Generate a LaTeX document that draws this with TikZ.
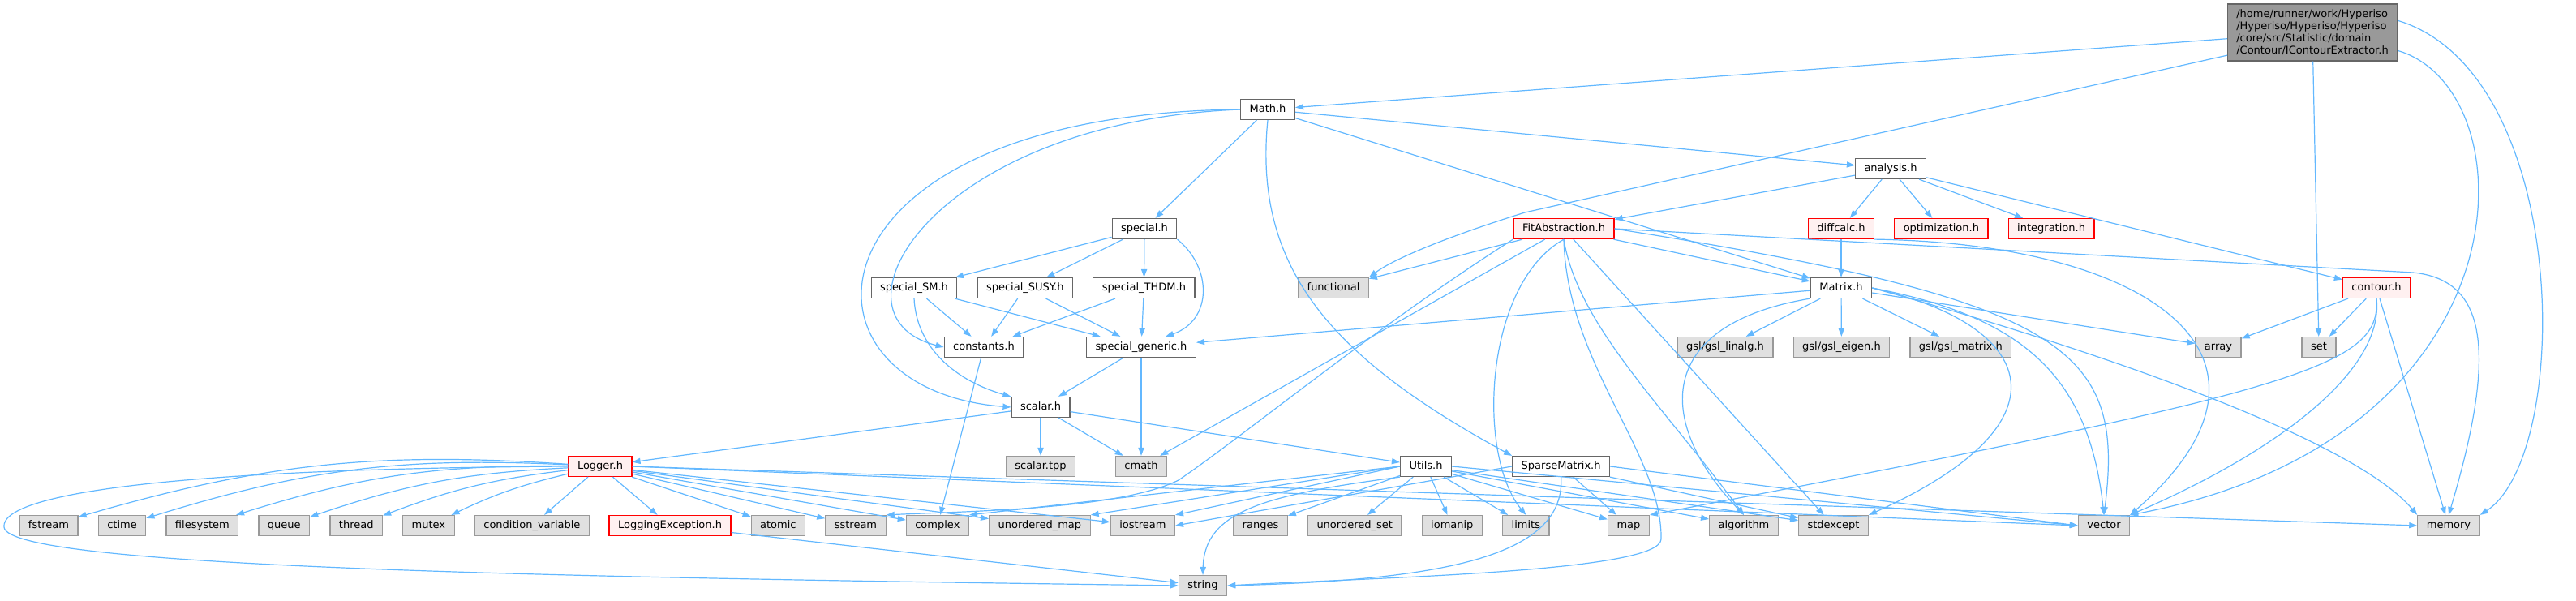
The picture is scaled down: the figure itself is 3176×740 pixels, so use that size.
\documentclass[tikz,border=0pt]{standalone}
\usepackage{fontspec}
\setmainfont{DejaVu Sans}
\usetikzlibrary{positioning, arrows.meta}
\definecolor{edgeblue}{HTML}{63B8FF}
\definecolor{hdrline}{HTML}{666666}
\definecolor{rootfill}{HTML}{999999}
\definecolor{sysfill}{HTML}{E0E0E0}
\definecolor{sysline}{HTML}{999999}
\definecolor{redfill}{HTML}{FFF0F0}
\tikzstyle{header} = [rectangle, minimum height=12.5pt, inner xsep=5.5pt, inner ysep=0pt, text height=5pt, text depth=1.4pt, line width=0.6pt, draw=hdrline, fill=white, font=\fontsize{6.5}{7.5}\selectfont]
\tikzstyle{missing} = [header, draw=red, fill=redfill]
\tikzstyle{sys} = [header, draw=sysline, fill=sysfill]
\tikzstyle{rootbox} = [rectangle, align=left, minimum height=35pt, minimum width=104.5pt, inner xsep=4pt, line width=0.6pt, draw=hdrline, fill=rootfill, font=\fontsize{6.5}{7.5}\selectfont]
\tikzstyle{arrow} = [->, >={Triangle[length=5pt, width=3.6pt]}, line width=0.6pt, draw=edgeblue]

\begin{document}
\begin{tikzpicture}[x=0.5pt, y=-0.5pt]
    \useasboundingbox (0,0) rectangle (3176,740);

    \node (root) [rootbox] at (2851,40)
    {/home/runner/work/Hyperiso\\/Hyperiso/Hyperiso/Hyperiso\\/core/src/Statistic/domain\\/Contour/IContourExtractor.h};
    \node (math) [header] at (1563,135) {Math.h};
    \node (analysis) [header] at (2331,208) {analysis.h};

    \node (special) [header] at (1411,282) {special.h};
    \node (fitabs) [missing] at (1928,282) {FitAbstraction.h};
    \node (diffcalc) [missing] at (2270,282) {diffcalc.h};
    \node (optim) [missing, right=12pt of diffcalc] {optimization.h};
    \node (integr) [missing, right=12pt of optim] {integration.h};

    \node (specSM) [header] at (1127,355) {special\_SM.h};
    \node (specSUSY) [header, right=12pt of specSM] {special\_SUSY.h};
    \node (specTHDM) [header, right=12pt of specSUSY] {special\_THDM.h};
    \node (functional) [sys] at (1644,355) {functional};
    \node (matrix) [header] at (2270,355) {Matrix.h};
    \node (contour) [missing] at (2930,355) {contour.h};

    \node (constants) [header] at (1213,428) {constants.h};
    \node (specgen) [header] at (1407,428) {special\_generic.h};
    \node (linalg) [sys] at (2127,428) {gsl/gsl\_linalg.h};
    \node (eigen) [sys, right=12pt of linalg] {gsl/gsl\_eigen.h};
    \node (gslmatrix) [sys, right=12pt of eigen] {gsl/gsl\_matrix.h};
    \node (array) [sys] at (2735,428) {array};
    \node (set) [sys] at (2859,428) {set};

    \node (scalar) [header] at (1283,502) {scalar.h};

    \node (logger) [missing] at (740,575) {Logger.h};
    \node (scalartpp) [sys] at (1283,575) {scalar.tpp};
    \node (cmath) [sys] at (1407,575) {cmath};
    \node (utils) [header] at (1758,575) {Utils.h};
    \node (sparse) [header, right=37pt of utils] {SparseMatrix.h};

    \node (fstream) [sys] at (60,648) {fstream};
    \node (ctime) [sys, right=12pt of fstream] {ctime};
    \node (filesystem) [sys, right=12pt of ctime] {filesystem};
    \node (queue) [sys, right=12pt of filesystem] {queue};
    \node (thread) [sys, right=12pt of queue] {thread};
    \node (mutex) [sys, right=12pt of thread] {mutex};
    \node (condvar) [sys, right=12pt of mutex] {condition\_variable};
    \node (logexc) [missing] at (826,648) {LoggingException.h};
    \node (atomic) [sys, right=12pt of logexc] {atomic};
    \node (sstream) [sys, right=12pt of atomic] {sstream};
    \node (complex) [sys, right=12pt of sstream] {complex};
    \node (umap) [sys, right=12pt of complex] {unordered\_map};
    \node (iostream) [sys, right=12pt of umap] {iostream};
    \node (ranges) [sys] at (1554,648) {ranges};
    \node (uset) [sys, right=12pt of ranges] {unordered\_set};
    \node (iomanip) [sys, right=12pt of uset] {iomanip};
    \node (limits) [sys, right=12pt of iomanip] {limits};
    \node (map) [sys] at (2008,648) {map};
    \node (algorithm) [sys] at (2150,648) {algorithm};
    \node (stdexcept) [sys, right=12pt of algorithm] {stdexcept};
    \node (vector) [sys] at (2594,648) {vector};
    \node (memory) [sys] at (3019,648) {memory};

    \node (string) [sys] at (1483,722) {string};

    % root file
    \draw [arrow] (root) -- (math);
    \draw [arrow] (root.195) -- (1880,262) .. controls (1790,290) and (1720,318) .. (functional.north east);
    \draw [arrow] (root) -- (set);
    \draw [arrow] (root.-12) .. controls (3120,110) and (3125,540) .. (vector.north east);
    \draw [arrow] (root.8) .. controls (3170,90) and (3172,560) .. (memory.north east);

    % Math.h
    \draw [arrow] (math) -- (analysis);
    \draw [arrow] (math) -- (special);
    \draw [arrow] (math.west) .. controls (1150,150) and (1010,390) .. (constants.west);
    \draw [arrow] (math.west) .. controls (980,140) and (960,480) .. (scalar.west);
    \draw [arrow] (math) -- (matrix);
    \draw [arrow] (math.south) .. controls (1545,330) and (1640,440) .. (sparse.north west);

    \draw [arrow] (analysis) -- (fitabs);
    \draw [arrow] (analysis) -- (diffcalc);
    \draw [arrow] (analysis) -- (optim);
    \draw [arrow] (analysis) -- (integr);
    \draw [arrow] (analysis) -- (contour);

    \draw [arrow] (special) -- (specSM);
    \draw [arrow] (special) -- (specSUSY);
    \draw [arrow] (special) -- (specTHDM);
    \draw [arrow] (special.south east) .. controls (1495,330) and (1495,395) .. ([xshift=15pt]specgen.north);

    \draw [arrow] (specSM) -- (constants);
    \draw [arrow] (specSM) -- (specgen);
    \draw [arrow] (specSM.south) .. controls (1130,430) and (1180,470) .. (scalar.north west);
    \draw [arrow] (specSUSY) -- (constants);
    \draw [arrow] (specSUSY) -- (specgen);
    \draw [arrow] (specTHDM) -- (constants);
    \draw [arrow] (specTHDM) -- (specgen);

    % Matrix.h
    \draw [arrow] (matrix) -- (specgen);
    \draw [arrow] (matrix) -- (linalg);
    \draw [arrow] (matrix) -- (eigen);
    \draw [arrow] (matrix) -- (gslmatrix);
    \draw [arrow] (matrix) -- (array);
    \draw [arrow] (matrix.east) .. controls (2580,430) and (2900,540) .. (memory.north west);
    \draw [arrow] (matrix.east) .. controls (2490,390) and (2575,460) .. (vector.north);
    \draw [arrow] (matrix.east) .. controls (2510,400) and (2560,520) .. (stdexcept.north east);
    \draw [arrow] (matrix.south west) .. controls (2040,400) and (2040,520) .. (algorithm.north);

    % FitAbstraction.h
    \draw [arrow] (fitabs) -- (functional);
    \draw [arrow] (fitabs) -- (matrix);
    \draw [arrow] (fitabs.east) -- (2975,336) .. controls (3065,345) and (3080,430) .. (memory.north);
    \draw [arrow] (fitabs.east) .. controls (2550,370) and (2620,430) .. (vector.north);
    \draw [arrow] (fitabs) -- (cmath);
    \draw [arrow] (fitabs.south west) .. controls (1700,400) and (1530,540) .. (1453,592) .. controls (1380,628) and (1200,630) .. (sstream.north east);
    \draw [arrow] (fitabs.south) .. controls (1830,350) and (1820,560) .. (limits.north);
    \draw [arrow] (fitabs.south) .. controls (1932,450) and (2050,560) .. (2048,665) .. controls (2046,705) and (1700,712) .. (string.east);
    \draw [arrow] (fitabs.south) .. controls (1945,400) and (2050,500) .. (algorithm.north);
    \draw [arrow] (fitabs) -- (stdexcept);

    \draw [arrow] (diffcalc) -- (matrix);
    \draw [arrow] (diffcalc.south east) .. controls (2650,300) and (2850,440) .. (vector.north east);

    % contour.h
    \draw [arrow] (contour) -- (array);
    \draw [arrow] (contour) -- (set);
    \draw [arrow] (contour.south) .. controls (2935,450) and (2850,480) .. (map.north east);
    \draw [arrow] (contour.south) .. controls (2940,460) and (2800,560) .. (vector.north east);
    \draw [arrow] (contour) -- (memory);

    \draw [arrow] (constants) -- (complex);
    \draw [arrow] (specgen) -- (scalar);
    \draw [arrow] (specgen) -- (cmath);

    % scalar.h
    \draw [arrow] (scalar) -- (scalartpp);
    \draw [arrow] (scalar) -- (cmath);
    \draw [arrow] (scalar) -- (logger);
    \draw [arrow] (scalar) -- (utils);

    % Logger.h
    \draw [arrow] (logger) to[bend right=10] (fstream);
    \draw [arrow] (logger) to[bend right=10] (ctime);
    \draw [arrow] (logger) to[bend right=9] (filesystem);
    \draw [arrow] (logger) to[bend right=8] (queue);
    \draw [arrow] (logger) to[bend right=7] (thread);
    \draw [arrow] (logger) to[bend right=6] (mutex);
    \draw [arrow] (logger) -- (condvar);
    \draw [arrow] (logger) -- (logexc);
    \draw [arrow] (logger) -- (atomic);
    \draw [arrow] (logger) -- (sstream);
    \draw [arrow] (logger) -- (complex);
    \draw [arrow] (logger) -- (umap);
    \draw [arrow] (logger) -- (iostream);
    \draw [arrow] (logger.east) -- (vector.west);
    \draw [arrow] (logger.east) -- (memory.west);
    \draw [arrow] (logger.west) .. controls (200,578) and (0,610) .. (5,650) .. controls (10,700) and (700,712) .. (string.west);
    \draw [arrow] (logexc) -- (string);

    % Utils.h
    \draw [arrow] (utils) -- (ranges);
    \draw [arrow] (utils) -- (uset);
    \draw [arrow] (utils) -- (iomanip);
    \draw [arrow] (utils) -- (limits);
    \draw [arrow] (utils) -- (map);
    \draw [arrow] (utils) -- (algorithm);
    \draw [arrow] (utils) -- (stdexcept);
    \draw [arrow] (utils.east) -- (vector.west);
    \draw [arrow] (utils.west) -- (complex.north east);
    \draw [arrow] (utils.west) -- (umap.north east);
    \draw [arrow] (utils.west) -- (iostream.north east);
    \draw [arrow] (utils.south west) .. controls (1560,610) and (1485,630) .. (string.north);

    % SparseMatrix.h
    \draw [arrow] (sparse.west) -- (iostream.east);
    \draw [arrow] (sparse.south) .. controls (1930,680) and (1800,715) .. (string.east);
    \draw [arrow] (sparse) -- (map);
    \draw [arrow] (sparse.east) -- (vector.west);
    \draw [arrow] (sparse) -- (stdexcept);
\end{tikzpicture}
\end{document}
